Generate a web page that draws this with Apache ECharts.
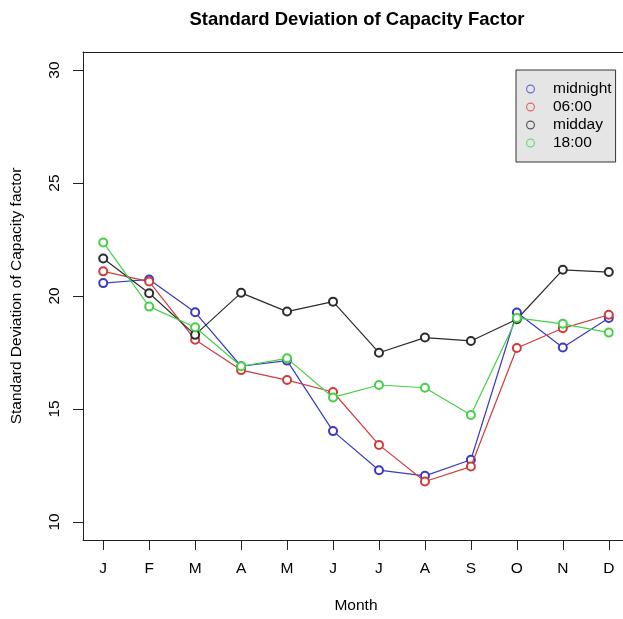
<!DOCTYPE html>
<html>
<head>
<meta charset="utf-8">
<script src="https://cdn.jsdelivr.net/npm/echarts@6/dist/echarts.min.js"></script>
<style>html,body{margin:0;padding:0;background:#fff}#c{width:623px;height:619px}</style>
</head>
<body>
<div id="c"></div>
<script>
var months = ['J','F','M','A','M','J','J','A','S','O','N','D'];
var yTicks = [10, 15, 20, 25, 30];
var seriesNames = ['midnight', '06:00', 'midday', '18:00'];
var midnight = [20.57, 20.73, 19.28, 16.89, 17.14, 14.02, 12.29, 12.04, 12.75, 19.27, 17.72, 19.03];
var six = [21.09, 20.64, 18.06, 16.72, 16.28, 15.75, 13.41, 11.79, 12.45, 17.70, 18.57, 19.17];
var midday = [21.66, 20.12, 18.28, 20.14, 19.31, 19.75, 17.49, 18.16, 18.01, 18.97, 21.16, 21.06];
var eighteen = [22.37, 19.53, 18.62, 16.89, 17.24, 15.51, 16.06, 15.94, 14.73, 19.03, 18.77, 18.38];
var colors = ['#3a3ac6', '#d03c3c', '#2c2c2c', '#46d046'];
var legendColors = ['#6a6ad6', '#dd6a6a', '#555555', '#6ede6e'];
var values = [midnight, six, midday, eighteen];
var monthPos = months.map(function(m, i){ return i + 1; });

var FONT = '"Liberation Sans", Arial, Helvetica, sans-serif';
var RING = 'path://M5,0A5,5 0 1,1 5,10A5,5 0 1,1 5,0Z M5,1.3A3.7,3.7 0 1,0 5,8.7A3.7,3.7 0 1,0 5,1.3Z';
var AXIS_LINE = {show: true, lineStyle: {color: '#222', width: 1}};

function mk(i) {
  return {
    name: seriesNames[i],
    type: 'line',
    data: values[i].map(function(v, j){ return [j + 1, v]; }),
    symbol: 'emptyCircle',
    symbolSize: 8,
    showSymbol: true,
    lineStyle: {color: colors[i], width: 1.2},
    itemStyle: {color: colors[i], borderColor: colors[i], borderWidth: 1.2},
    emphasis: {disabled: true},
    z: 2 + i
  };
}

var chart = echarts.init(document.getElementById('c'), null, {renderer: 'canvas'});
chart.setOption({
  animation: false,
  backgroundColor: '#fff',
  title: {
    text: 'Standard Deviation of Capacity Factor',
    left: 352, top: 5, textAlign: 'center',
    textStyle: {fontFamily: FONT, fontWeight: 'bold', fontSize: 18.5, color: '#000'}
  },
  grid: {
    left: 83, top: 52, width: 540, height: 488,
    show: false
  },
  legend: {
    orient: 'vertical',
    left: 516, top: 70,
    backgroundColor: '#e5e5e5', borderColor: '#333', borderWidth: 1,
    borderRadius: 0,
    padding: [11, 4, 11, 10],
    itemGap: 2,
    itemWidth: 9, itemHeight: 9,
    data: seriesNames.map(function(n, i){
      return {name: n, icon: RING, itemStyle: {color: legendColors[i], borderWidth: 0}};
    }),
    textStyle: {fontFamily: FONT, fontSize: 15.5, color: '#000', padding: [0, 0, 0, 13]},
    selectedMode: false
  },
  xAxis: [{
    type: 'value', min: 0.56, max: 0.56 + 11.88 * 540 / 546,
    position: 'bottom',
    name: 'Month', nameLocation: 'middle', nameGap: 58,
    nameTextStyle: {fontFamily: FONT, fontSize: 15.5, color: '#000', padding: [0, 0, 0, 6]},
    axisLine: AXIS_LINE,
    axisTick: {show: true, inside: false, length: 10, customValues: monthPos, lineStyle: {color: '#222'}},
    axisLabel: {
      customValues: monthPos, margin: 21,
      fontFamily: FONT, fontSize: 15.5, color: '#000',
      formatter: function(v){ return months[Math.round(v) - 1]; }
    },
    splitLine: {show: false}
  }, {
    type: 'value', min: 0.56, max: 0.56 + 11.88 * 540 / 546,
    position: 'top',
    axisLine: AXIS_LINE,
    axisTick: {show: false},
    axisLabel: {show: false},
    splitLine: {show: false}
  }],
  yAxis: {
    type: 'value', min: 9.2, max: 30.8,
    name: 'Standard Deviation of Capacity factor', nameLocation: 'middle', nameGap: 58,
    nameTextStyle: {fontFamily: FONT, fontSize: 15.5, color: '#000'},
    axisLine: AXIS_LINE,
    axisTick: {show: true, inside: false, length: 10, customValues: yTicks, lineStyle: {color: '#222'}},
    axisLabel: {
      customValues: yTicks, margin: 20, rotate: 90,
      fontFamily: FONT, fontSize: 15.5, color: '#000'
    },
    splitLine: {show: false}
  },
  series: [mk(0), mk(1), mk(2), mk(3)]
});
</script>
</body>
</html>
